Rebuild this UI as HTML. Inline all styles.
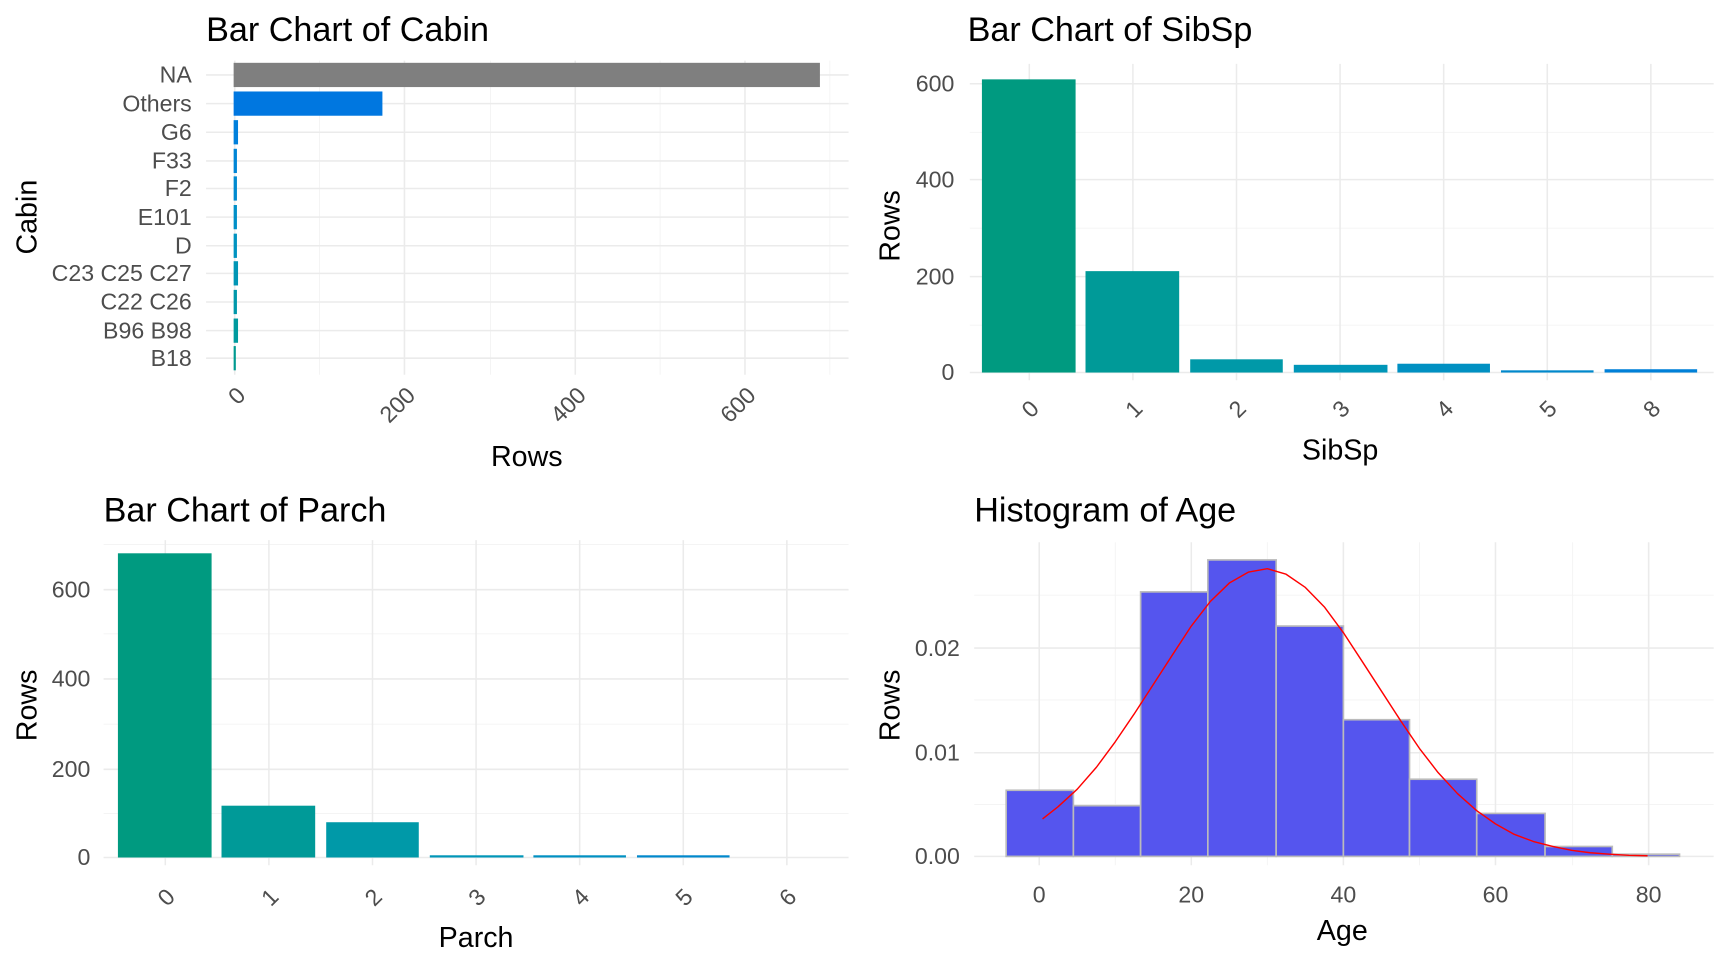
<!DOCTYPE html>
<html><head><meta charset="utf-8"><style>
html,body{margin:0;padding:0;background:#fff;}
svg{display:block;}
text{font-family:"Liberation Sans",Arial,sans-serif;}
.t{font-size:31px;fill:#000;}
.at{font-size:26px;fill:#000;}
.tk{font-size:21px;fill:#4d4d4d;}
.g{stroke:#ebebeb;stroke-width:1.4;}
.gm{stroke:#f3f3f3;stroke-width:0.8;}
</style></head><body>
<svg width="1728" height="960" viewBox="0 0 1568 871" preserveAspectRatio="none" xmlns="http://www.w3.org/2000/svg">
<rect width="1568" height="871" fill="#fff"/>

<!-- Panel 1: Cabin -->
<g>
<line class="gm" x1="290" y1="55" x2="290" y2="340"/><line class="gm" x1="445" y1="55" x2="445" y2="340"/><line class="gm" x1="599" y1="55" x2="599" y2="340"/><line class="gm" x1="753" y1="55" x2="753" y2="340"/>
<line class="g" x1="213" y1="55" x2="213" y2="340"/><line class="g" x1="367" y1="55" x2="367" y2="340"/><line class="g" x1="522" y1="55" x2="522" y2="340"/><line class="g" x1="676" y1="55" x2="676" y2="340"/>
<g class="g">
<line x1="187" y1="68" x2="770" y2="68"/><line x1="187" y1="94" x2="770" y2="94"/><line x1="187" y1="120" x2="770" y2="120"/><line x1="187" y1="146" x2="770" y2="146"/><line x1="187" y1="171" x2="770" y2="171"/><line x1="187" y1="197" x2="770" y2="197"/><line x1="187" y1="223" x2="770" y2="223"/><line x1="187" y1="248" x2="770" y2="248"/><line x1="187" y1="274" x2="770" y2="274"/><line x1="187" y1="300" x2="770" y2="300"/><line x1="187" y1="325" x2="770" y2="325"/>
</g>
<rect x="212" y="57" width="532" height="22" fill="#7f7f7f"/>
<rect x="212" y="83" width="135" height="22" fill="#0077e0"/>
<rect x="212" y="109" width="4" height="22" fill="#0080dc"/>
<rect x="212" y="135" width="3" height="22" fill="#0085d6"/>
<rect x="212" y="160" width="3" height="22" fill="#008ad0"/>
<rect x="212" y="186" width="3" height="22" fill="#008fc8"/>
<rect x="212" y="212" width="3" height="22" fill="#0093c0"/>
<rect x="212" y="237" width="4" height="22" fill="#0096b5"/>
<rect x="212" y="263" width="3" height="22" fill="#0098aa"/>
<rect x="212" y="289" width="4" height="22" fill="#009a9e"/>
<rect x="212" y="314" width="2" height="22" fill="#009a90"/>
<g class="tk" text-anchor="end">
<text x="174" y="75">NA</text><text x="174" y="101">Others</text><text x="174" y="127">G6</text><text x="174" y="153">F33</text><text x="174" y="178">F2</text><text x="174" y="204">E101</text><text x="174" y="230">D</text><text x="174" y="255">C23 C25 C27</text><text x="174" y="281">C22 C26</text><text x="174" y="307">B96 B98</text><text x="174" y="332">B18</text>
</g>
<g class="tk" text-anchor="end">
<text transform="translate(224,360) rotate(-45)">0</text>
<text transform="translate(378,360) rotate(-45)">200</text>
<text transform="translate(533,360) rotate(-45)">400</text>
<text transform="translate(687,360) rotate(-45)">600</text>
</g>
<text class="t" x="187" y="37">Bar Chart of Cabin</text>
<text class="at" x="478" y="423" text-anchor="middle">Rows</text>
<text class="at" transform="translate(33,197) rotate(-90)" text-anchor="middle">Cabin</text>
</g>

<!-- Panel 2: SibSp -->
<g>
<line class="gm" x1="880" y1="295" x2="1555" y2="295"/><line class="gm" x1="880" y1="207" x2="1555" y2="207"/><line class="gm" x1="880" y1="120" x2="1555" y2="120"/>
<line class="g" x1="880" y1="338" x2="1555" y2="338"/><line class="g" x1="880" y1="251" x2="1555" y2="251"/><line class="g" x1="880" y1="163" x2="1555" y2="163"/><line class="g" x1="880" y1="76" x2="1555" y2="76"/>
<g class="g"><line x1="934" y1="58" x2="934" y2="345"/><line x1="1028" y1="58" x2="1028" y2="345"/><line x1="1122" y1="58" x2="1122" y2="345"/><line x1="1216" y1="58" x2="1216" y2="345"/><line x1="1310" y1="58" x2="1310" y2="345"/><line x1="1404" y1="58" x2="1404" y2="345"/><line x1="1498" y1="58" x2="1498" y2="345"/></g>
<rect x="891" y="72" width="85" height="266" fill="#009a80"/>
<rect x="985" y="246" width="85" height="92" fill="#009a98"/>
<rect x="1080" y="326" width="84" height="12" fill="#0099a8"/>
<rect x="1174" y="331" width="85" height="7" fill="#0096b8"/>
<rect x="1268" y="330" width="84" height="8" fill="#0090c2"/>
<rect x="1362" y="336" width="84" height="2" fill="#0088cc"/>
<rect x="1456" y="335" width="84" height="3" fill="#0080d8"/>
<g class="tk" text-anchor="end">
<text x="866" y="345">0</text><text x="866" y="258">200</text><text x="866" y="170">400</text><text x="866" y="83">600</text>
</g>
<g class="tk" text-anchor="end">
<text transform="translate(944,372) rotate(-45)">0</text><text transform="translate(1038,372) rotate(-45)">1</text><text transform="translate(1132,372) rotate(-45)">2</text><text transform="translate(1226,372) rotate(-45)">3</text><text transform="translate(1320,372) rotate(-45)">4</text><text transform="translate(1414,372) rotate(-45)">5</text><text transform="translate(1508,372) rotate(-45)">8</text>
</g>
<text class="t" x="878" y="37">Bar Chart of SibSp</text>
<text class="at" x="1216" y="417" text-anchor="middle">SibSp</text>
<text class="at" transform="translate(816,205) rotate(-90)" text-anchor="middle">Rows</text>
</g>

<!-- Panel 3: Parch -->
<g>
<line class="gm" x1="94" y1="738" x2="770" y2="738"/><line class="gm" x1="94" y1="657" x2="770" y2="657"/><line class="gm" x1="94" y1="575" x2="770" y2="575"/><line class="gm" x1="94" y1="494" x2="770" y2="494"/>
<line class="g" x1="94" y1="778" x2="770" y2="778"/><line class="g" x1="94" y1="698" x2="770" y2="698"/><line class="g" x1="94" y1="616" x2="770" y2="616"/><line class="g" x1="94" y1="535" x2="770" y2="535"/>
<g class="g"><line x1="150" y1="490" x2="150" y2="785"/><line x1="244" y1="490" x2="244" y2="785"/><line x1="338" y1="490" x2="338" y2="785"/><line x1="432" y1="490" x2="432" y2="785"/><line x1="526" y1="490" x2="526" y2="785"/><line x1="620" y1="490" x2="620" y2="785"/><line x1="714" y1="490" x2="714" y2="785"/></g>
<rect x="107" y="502" width="85" height="276" fill="#009a80"/>
<rect x="201" y="731" width="85" height="47" fill="#009a98"/>
<rect x="296" y="746" width="84" height="32" fill="#0099a8"/>
<rect x="390" y="776" width="85" height="2" fill="#0096b8"/>
<rect x="484" y="776" width="84" height="2" fill="#0090c2"/>
<rect x="578" y="776" width="84" height="2" fill="#0088cc"/>
<g class="tk" text-anchor="end">
<text x="82" y="785">0</text><text x="82" y="705">200</text><text x="82" y="623">400</text><text x="82" y="542">600</text>
</g>
<g class="tk" text-anchor="end">
<text transform="translate(160,815) rotate(-45)">0</text><text transform="translate(254,815) rotate(-45)">1</text><text transform="translate(348,815) rotate(-45)">2</text><text transform="translate(442,815) rotate(-45)">3</text><text transform="translate(536,815) rotate(-45)">4</text><text transform="translate(630,815) rotate(-45)">5</text><text transform="translate(724,815) rotate(-45)">6</text>
</g>
<text class="t" x="94" y="473">Bar Chart of Parch</text>
<text class="at" x="432" y="859" text-anchor="middle">Parch</text>
<text class="at" transform="translate(33,640) rotate(-90)" text-anchor="middle">Rows</text>
</g>

<!-- Panel 4: Age -->
<g>
<line class="gm" x1="884" y1="730" x2="1555" y2="730"/><line class="gm" x1="884" y1="635" x2="1555" y2="635"/><line class="gm" x1="884" y1="540" x2="1555" y2="540"/>
<line class="gm" x1="1012" y1="492" x2="1012" y2="785"/><line class="gm" x1="1150" y1="492" x2="1150" y2="785"/><line class="gm" x1="1288" y1="492" x2="1288" y2="785"/><line class="gm" x1="1427" y1="492" x2="1427" y2="785"/>
<line class="g" x1="884" y1="777" x2="1555" y2="777"/><line class="g" x1="884" y1="683" x2="1555" y2="683"/><line class="g" x1="884" y1="588" x2="1555" y2="588"/>
<line class="g" x1="943" y1="492" x2="943" y2="785"/><line class="g" x1="1081" y1="492" x2="1081" y2="785"/><line class="g" x1="1219" y1="492" x2="1219" y2="785"/><line class="g" x1="1357" y1="492" x2="1357" y2="785"/><line class="g" x1="1496" y1="492" x2="1496" y2="785"/>
<g fill="#5555ee" stroke="#bbbbbb" stroke-width="1.5">
<rect x="913" y="717" width="61" height="60"/>
<rect x="974" y="731" width="61" height="46"/>
<rect x="1035" y="537" width="61" height="240"/>
<rect x="1096" y="508" width="62" height="269"/>
<rect x="1158" y="568" width="61" height="209"/>
<rect x="1219" y="653" width="60" height="124"/>
<rect x="1279" y="707" width="61" height="70"/>
<rect x="1340" y="738" width="62" height="39"/>
<rect x="1402" y="768" width="61" height="9"/>
<rect x="1463" y="775" width="61" height="2"/>
</g>
<polyline fill="none" stroke="#ff0000" stroke-width="1.3" stroke-linejoin="round" points="946,743 960,732 977.5,716 995,696 1012,673 1029,648 1046.5,621 1064,594 1081,568 1098,546 1115.5,529 1133,519 1150,516 1167,521 1184.5,533 1202,551 1219,574 1236,600 1253.5,627 1271,654 1288,679 1305,701 1322.5,720 1340,735.5 1357,747.5 1374,757 1391.5,763.5 1409,768 1426,771.5 1443,773.7 1460.5,775 1478,776 1495,776.4"/>
<g class="tk" text-anchor="end">
<text x="871" y="784">0.00</text><text x="871" y="690">0.01</text><text x="871" y="595">0.02</text>
</g>
<g class="tk" text-anchor="middle">
<text x="943" y="819">0</text><text x="1081" y="819">20</text><text x="1219" y="819">40</text><text x="1357" y="819">60</text><text x="1496" y="819">80</text>
</g>
<text class="t" x="884" y="473">Histogram of Age</text>
<text class="at" x="1218" y="853" text-anchor="middle">Age</text>
<text class="at" transform="translate(816,640) rotate(-90)" text-anchor="middle">Rows</text>
</g>
</svg>
</body></html>
